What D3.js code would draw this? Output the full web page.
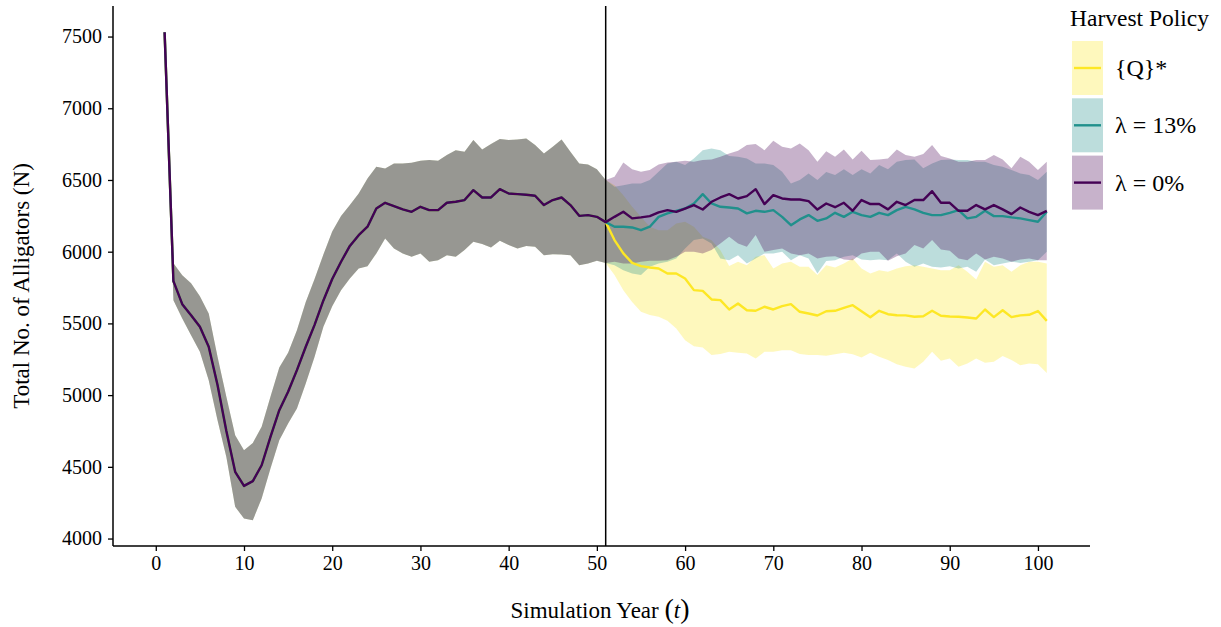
<!DOCTYPE html>
<html>
<head>
<meta charset="utf-8">
<script src="https://cdn.jsdelivr.net/npm/d3@7"></script>
<style>
  body { margin: 0; background: #fff; }
  svg { display: block; font-family: "Liberation Serif", "Times New Roman", serif; }
</style>
</head>
<body>
<svg id="chart" width="1221" height="627"></svg>
<script>
// simulation years 1..101, harvest starts after year 51
const years = d3.range(1, 102);
const splitYear = 51;

// years 1-51: same for all policies
const sharedMean = [7530, 5795, 5634, 5557, 5476, 5337, 5070, 4750, 4465, 4367,
  4400, 4511, 4709, 4895, 5023, 5174, 5337, 5490, 5660, 5810,
  5930, 6040, 6115, 6174, 6301, 6341, 6318, 6295, 6278, 6313,
  6290, 6290, 6341, 6348, 6360, 6429, 6378, 6378, 6436, 6406,
  6401, 6397, 6390, 6325, 6360, 6378, 6325, 6250, 6255, 6243, 6206];
const sharedLow = [7530, 5662, 5534, 5418, 5302, 5104, 4825, 4569, 4221, 4139,
  4128, 4279, 4488, 4686, 4802, 4907, 5081, 5267, 5476, 5620,
  5732, 5813, 5883, 5899, 5988, 6092, 6022, 5988, 5964, 5988,
  5929, 5941, 5976, 5964, 6011, 6069, 6053, 6029, 6076, 6046,
  6022, 6039, 6034, 5976, 5983, 5981, 5976, 5906, 5918, 5936, 5922];
const sharedHigh = [7530, 5920, 5836, 5780, 5690, 5569, 5267, 4988, 4720, 4616,
  4667, 4779, 4988, 5193, 5295, 5453, 5650, 5810, 5980, 6140,
  6248, 6325, 6406, 6511, 6592, 6580, 6615, 6615, 6620, 6634,
  6639, 6634, 6674, 6708, 6697, 6778, 6713, 6750, 6785, 6778,
  6783, 6790, 6743, 6685, 6732, 6783, 6697, 6615, 6608, 6574, 6499];

// years 52-101, policy {Q}*
const qMean = [6081, 5988, 5922, 5899, 5890, 5883, 5848, 5848, 5813, 5732,
  5727, 5667, 5662, 5597, 5639, 5592, 5588, 5616, 5597, 5620,
  5634, 5581, 5569, 5555, 5585, 5588, 5608, 5627, 5585, 5543,
  5588, 5564, 5557, 5556, 5546, 5550, 5588, 5553, 5548, 5546,
  5541, 5534, 5597, 5544, 5592, 5544, 5556, 5560, 5586, 5518];
const qLow = [5837, 5732, 5650, 5581, 5558, 5546, 5518, 5465, 5383, 5341,
  5332, 5279, 5286, 5302, 5295, 5290, 5255, 5302, 5302, 5313,
  5313, 5286, 5279, 5279, 5275, 5285, 5295, 5285, 5262, 5295,
  5267, 5244, 5216, 5197, 5186, 5232, 5302, 5239, 5255, 5197,
  5220, 5255, 5225, 5232, 5272, 5244, 5209, 5220, 5216, 5155];
const qHigh = [6464, 6394, 6313, 6243, 6174, 6150, 6150, 6197, 6208, 6174,
  6104, 6080, 6010, 5900, 5930, 5906, 5964, 5976, 5883, 5918,
  5930, 5895, 5895, 5837, 5906, 5890, 5918, 5953, 5883, 5848,
  5871, 5860, 5883, 5899, 5906, 5895, 5883, 5871, 5871, 5906,
  5860, 5806, 5930, 5895, 5906, 5860, 5906, 5930, 5930, 5918];

// years 52-101, lambda = 13%
const l13Mean = [6174, 6174, 6169, 6150, 6174, 6243, 6267, 6285, 6301, 6336,
  6401, 6336, 6313, 6308, 6301, 6267, 6285, 6278, 6290, 6243,
  6185, 6225, 6255, 6215, 6232, 6271, 6243, 6278, 6255, 6243,
  6271, 6255, 6290, 6313, 6295, 6271, 6255, 6255, 6271, 6290,
  6232, 6243, 6285, 6248, 6248, 6239, 6232, 6220, 6209, 6278];
const l13Low = [5906, 5871, 5848, 5837, 5895, 5918, 5930, 5953, 6023, 6081,
  6092, 6057, 5953, 5941, 5976, 5918, 5953, 5988, 5988, 5999,
  5941, 5976, 5953, 5848, 5935, 5941, 5964, 5976, 5946, 5941,
  5946, 5941, 5988, 5930, 5895, 5918, 5895, 5890, 5899, 5883,
  5895, 5860, 5946, 5906, 5918, 5930, 5922, 5930, 5941, 5999];
const l13High = [6453, 6464, 6476, 6476, 6499, 6557, 6615, 6627, 6604, 6650,
  6708, 6720, 6708, 6667, 6662, 6650, 6615, 6615, 6604, 6557,
  6476, 6499, 6546, 6499, 6555, 6534, 6574, 6534, 6574, 6546,
  6604, 6574, 6627, 6639, 6643, 6581, 6615, 6639, 6643, 6640,
  6640, 6627, 6627, 6604, 6592, 6569, 6546, 6534, 6499, 6557];

// years 52-101, lambda = 0%
const l0Mean = [6243, 6278, 6232, 6239, 6248, 6274, 6290, 6278, 6301, 6325,
  6294, 6348, 6378, 6401, 6371, 6387, 6436, 6332, 6394, 6371,
  6364, 6364, 6353, 6294, 6336, 6310, 6341, 6285, 6360, 6332,
  6332, 6295, 6348, 6325, 6360, 6360, 6422, 6341, 6341, 6285,
  6285, 6325, 6295, 6325, 6295, 6262, 6308, 6278, 6255, 6285];
const l0Low = [5930, 5918, 5918, 5930, 5937, 5937, 5941, 5964, 5999, 5999,
  5988, 6011, 6057, 6104, 6057, 6034, 6116, 5999, 6011, 6023,
  5988, 5976, 5988, 5953, 5964, 5969, 5946, 5941, 5988, 5999,
  5999, 5937, 5969, 5988, 6046, 6023, 6081, 6016, 6006, 5953,
  5941, 5988, 5946, 5964, 5953, 5930, 5946, 5953, 5941, 5941];
const l0High = [6522, 6622, 6574, 6557, 6569, 6608, 6622, 6627, 6634, 6627,
  6639, 6643, 6662, 6685, 6704, 6743, 6750, 6708, 6773, 6732,
  6720, 6755, 6708, 6627, 6700, 6662, 6713, 6643, 6704, 6639,
  6643, 6650, 6713, 6674, 6662, 6681, 6743, 6667, 6650, 6627,
  6627, 6639, 6639, 6674, 6643, 6581, 6662, 6627, 6569, 6627];

const xTicks = [0, 10, 20, 30, 40, 50, 60, 70, 80, 90, 100];
const yTicks = [4000, 4500, 5000, 5500, 6000, 6500, 7000, 7500];

const policies = [
  { label: "{Q}*",    color: "#FDE725", mean: qMean,   low: qLow,   high: qHigh },
  { label: "λ = 13%", color: "#21908C", mean: l13Mean, low: l13Low, high: l13High },
  { label: "λ = 0%",  color: "#440154", mean: l0Mean,  low: l0Low,  high: l0High }
];

policies.forEach(p => {
  const m = sharedMean.concat(p.mean), lo = sharedLow.concat(p.low), hi = sharedHigh.concat(p.high);
  p.rows = years.map((yr, i) => ({ year: yr, mean: m[i], low: lo[i], high: hi[i] }));
});

const svg = d3.select("#chart");
const panel = { left: 113, right: 1090, top: 6, bottom: 546 };

const x = d3.scaleLinear().domain([-4.85, 105.9]).range([panel.left, panel.right]);
const y = d3.scaleLinear().domain([3948, 7713]).range([panel.bottom, panel.top]);

const area = d3.area()
  .x(d => x(d.year))
  .y0(d => y(d.low))
  .y1(d => y(d.high));
const line = d3.line()
  .x(d => x(d.year))
  .y(d => y(d.mean));

// ribbons
svg.append("g").selectAll("path")
  .data(policies)
  .join("path")
    .attr("d", d => area(d.rows))
    .attr("fill", d => d.color)
    .attr("fill-opacity", 0.3);

// start of harvest
svg.append("line")
  .attr("x1", x(splitYear)).attr("x2", x(splitYear))
  .attr("y1", panel.top).attr("y2", panel.bottom)
  .attr("stroke", "#000").attr("stroke-width", 1.5);

// mean lines
svg.append("g").selectAll("path")
  .data(policies)
  .join("path")
    .attr("d", d => line(d.rows))
    .attr("fill", "none")
    .attr("stroke", d => d.color)
    .attr("stroke-width", 2.4)
    .attr("stroke-linejoin", "round");

// axes
const xAxis = svg.append("g")
  .attr("transform", `translate(0,${panel.bottom})`)
  .call(d3.axisBottom(x).tickValues(xTicks).tickSize(5).tickPadding(5));
const yAxis = svg.append("g")
  .attr("transform", `translate(${panel.left},0)`)
  .call(d3.axisLeft(y).tickValues(yTicks).tickFormat(d3.format("d")).tickSize(5).tickPadding(6));

[xAxis, yAxis].forEach(g => {
  g.select(".domain").attr("stroke", "#000").attr("stroke-width", 1.5);
  g.selectAll(".tick line").attr("stroke", "#000").attr("stroke-width", 1.3);
  g.selectAll(".tick text")
    .attr("fill", "#000")
    .style("font-family", "'Liberation Serif', serif")
    .style("font-size", "20px");
});
xAxis.select(".domain").attr("d", `M${panel.left},0H${panel.right}`);
yAxis.select(".domain").attr("d", `M0,${panel.top}V${panel.bottom}`);

// axis titles
const xt = svg.append("text")
  .attr("x", 600).attr("y", 618)
  .attr("text-anchor", "middle")
  .style("font-size", "23px");
xt.append("tspan").text("Simulation Year ");
xt.append("tspan").style("font-size", "28px").text("(");
xt.append("tspan").style("font-style", "italic").text("t");
xt.append("tspan").style("font-size", "28px").text(")");

svg.append("text")
  .attr("transform", "translate(29,286) rotate(-90)")
  .attr("text-anchor", "middle")
  .style("font-size", "23px")
  .text("Total No. of Alligators (N)");

// legend
const legend = svg.append("g");
legend.append("text")
  .attr("x", 1070).attr("y", 26)
  .style("font-size", "23.5px")
  .text("Harvest Policy");

const key = legend.selectAll("g.key")
  .data(policies)
  .join("g")
    .attr("class", "key")
    .attr("transform", (d, i) => `translate(1072,${41 + i * 57.3})`);
key.append("rect")
  .attr("width", 31).attr("height", 54)
  .attr("fill", d => d.color)
  .attr("fill-opacity", 0.3);
key.append("line")
  .attr("x1", 2).attr("x2", 29)
  .attr("y1", 27).attr("y2", 27)
  .attr("stroke", d => d.color)
  .attr("stroke-width", 2.4);
key.append("text")
  .attr("x", 43).attr("y", 35)
  .style("font-size", "24px")
  .text(d => d.label);
</script>
</body>
</html>
